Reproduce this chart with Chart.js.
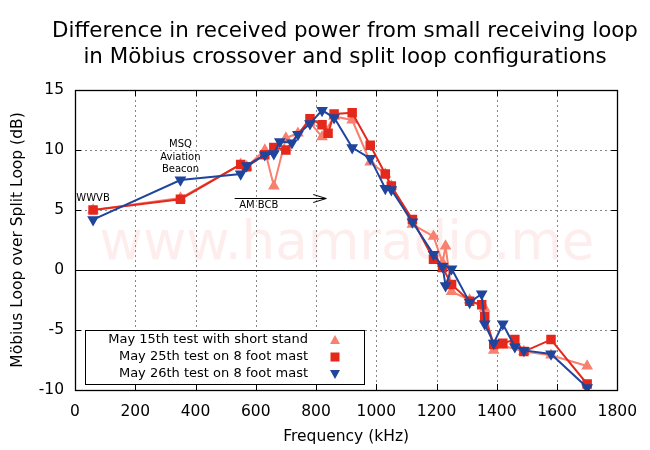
<!DOCTYPE html>
<html>
<head>
<meta charset="utf-8">
<script src="https://cdn.jsdelivr.net/npm/chart.js@4.4.1/dist/chart.umd.min.js"></script>
<style>
  html, body { margin: 0; padding: 0; background: #fff; }
</style>
</head>
<body>
<canvas id="loopChart" width="650" height="450"></canvas>
<script>
// Frequencies (kHz) and Möbius-minus-split difference (dB)
const freqMay15 = [60, 350, 550, 570, 630, 660, 700, 740, 780, 820, 860, 920, 980, 1030, 1050, 1120, 1190, 1220, 1230, 1250, 1310, 1360, 1390, 1420, 1490, 1580, 1700];
const dbMay15   = [5.0, 6.0, 8.8, 8.6, 10.0, 7.0, 11.0, 11.4, 12.3, 11.1, 12.8, 12.5, 9.0, 8.0, 7.0, 3.8, 2.8, 0.6, 2.0, -1.8, -2.5, -3.2, -6.7, -6.3, -6.8, -7.1, -8.0];

const freqMay25 = [60, 350, 550, 570, 630, 660, 700, 780, 820, 840, 860, 920, 980, 1030, 1050, 1120, 1190, 1220, 1250, 1310, 1350, 1360, 1390, 1420, 1460, 1490, 1580, 1700];
const dbMay25   = [5.0, 5.9, 8.8, 8.6, 9.6, 10.2, 10.0, 12.6, 12.1, 11.4, 13.0, 13.1, 10.4, 8.0, 7.0, 4.2, 0.9, 0.2, -1.2, -2.6, -2.9, -3.9, -6.2, -6.1, -5.8, -6.8, -5.8, -9.5];

const freqMay26 = [60, 350, 550, 570, 630, 660, 680, 720, 740, 780, 820, 860, 920, 980, 1030, 1050, 1120, 1190, 1220, 1230, 1250, 1310, 1350, 1360, 1390, 1420, 1460, 1490, 1580, 1700];
const dbMay26   = [4.2, 7.5, 8.0, 8.7, 9.6, 9.7, 10.7, 10.6, 11.3, 12.2, 13.3, 12.7, 10.2, 9.3, 6.8, 6.7, 4.0, 1.3, 0.3, -1.3, 0.1, -2.7, -2.0, -4.5, -6.1, -4.5, -6.4, -6.7, -7.0, -9.8];

const seriesNames = ["May 15th test with short stand", "May 25th test on 8 foot mast", "May 26th test on 8 foot mast"];
const xTicks = [0, 200, 400, 600, 800, 1000, 1200, 1400, 1600, 1800];
const yTicks = [-10, -5, 0, 5, 10, 15];

const FONT = '"DejaVu Sans", sans-serif';
const PINK = "#f8806f";
const RED = "#e4281c";
const BLUE = "#1f459c";

const toPoints = (xs, ys) => xs.map((x, i) => ({ x: x, y: ys[i] }));

// grid, border, watermark and labels the way gnuplot draws them
const gnuplotDecor = {
  id: "gnuplotDecor",
  beforeDatasetsDraw(chart) {
    const { ctx, chartArea: a, scales: { x, y } } = chart;
    ctx.save();

    // watermark
    ctx.font = "53px " + FONT;
    ctx.fillStyle = "rgba(240, 60, 60, 0.09)";
    ctx.textAlign = "center";
    ctx.textBaseline = "middle";
    ctx.fillText("www.hamradio.me", a.left + 272, a.top + 155);

    // dotted grid
    ctx.lineWidth = 1;
    ctx.strokeStyle = "#888";
    ctx.setLineDash([2, 3]);
    xTicks.slice(1, -1).forEach(v => {
      const px = Math.round(x.getPixelForValue(v)) + 0.5;
      ctx.beginPath(); ctx.moveTo(px, a.top); ctx.lineTo(px, a.bottom); ctx.stroke();
    });
    yTicks.slice(1, -1).forEach(v => {
      if (v === 0) return;
      const py = Math.round(y.getPixelForValue(v)) + 0.5;
      ctx.beginPath(); ctx.moveTo(a.left, py); ctx.lineTo(a.right, py); ctx.stroke();
    });
    ctx.setLineDash([]);

    // zero line
    ctx.strokeStyle = "#000";
    const zy = Math.round(y.getPixelForValue(0)) + 0.5;
    ctx.beginPath(); ctx.moveTo(a.left, zy); ctx.lineTo(a.right, zy); ctx.stroke();

    // inward ticks on all four sides
    xTicks.forEach(v => {
      const px = Math.round(x.getPixelForValue(v)) + 0.5;
      ctx.beginPath();
      ctx.moveTo(px, a.bottom); ctx.lineTo(px, a.bottom - 6);
      ctx.moveTo(px, a.top); ctx.lineTo(px, a.top + 6);
      ctx.stroke();
    });
    yTicks.forEach(v => {
      const py = Math.round(y.getPixelForValue(v)) + 0.5;
      ctx.beginPath();
      ctx.moveTo(a.left, py); ctx.lineTo(a.left + 6, py);
      ctx.moveTo(a.right, py); ctx.lineTo(a.right - 6, py);
      ctx.stroke();
    });

    // border
    ctx.lineWidth = 1.3;
    ctx.strokeRect(Math.round(a.left) + 0.5, Math.round(a.top) + 0.5,
      Math.round(a.right - a.left), Math.round(a.bottom - a.top));
    ctx.restore();
  },
  afterDatasetsDraw(chart) {
    const { ctx, chartArea: a, scales: { x, y } } = chart;
    ctx.save();
    ctx.fillStyle = "#000";
    ctx.strokeStyle = "#000";
    ctx.textAlign = "center";
    ctx.textBaseline = "middle";

    // annotations
    ctx.font = "10px " + FONT;
    ctx.fillText("WWVB", x.getPixelForValue(60), y.getPixelForValue(6.0));
    ctx.fillText("MSQ", x.getPixelForValue(350), y.getPixelForValue(10.5));
    ctx.fillText("Aviation", x.getPixelForValue(350), y.getPixelForValue(9.4));
    ctx.fillText("Beacon", x.getPixelForValue(350), y.getPixelForValue(8.4));
    ctx.fillText("AM BCB", x.getPixelForValue(610), y.getPixelForValue(5.4));

    // AM broadcast band arrow
    const ax0 = x.getPixelForValue(530), ax1 = x.getPixelForValue(834);
    const ay = Math.round(y.getPixelForValue(6.0)) + 0.5;
    ctx.lineWidth = 1;
    ctx.beginPath();
    ctx.moveTo(ax0, ay); ctx.lineTo(ax1, ay);
    ctx.moveTo(ax1 - 13, ay - 4); ctx.lineTo(ax1, ay); ctx.lineTo(ax1 - 13, ay + 4);
    ctx.stroke();

    // key box
    ctx.fillStyle = "#fff";
    ctx.fillRect(85.5, 330.5, 279, 54);
    ctx.strokeRect(85.5, 330.5, 279, 54);
    ctx.font = "13px " + FONT;
    ctx.textAlign = "right";
    const rows = [340, 357, 374];
    const colors = [PINK, RED, BLUE];
    seriesNames.forEach((name, i) => {
      ctx.fillStyle = "#000";
      ctx.fillText(name, 308, rows[i]);
      ctx.fillStyle = colors[i];
      const mx = 335, my = rows[i];
      ctx.beginPath();
      if (i === 0) {
        ctx.moveTo(mx, my - 5); ctx.lineTo(mx + 5, my + 4); ctx.lineTo(mx - 5, my + 4);
      } else if (i === 1) {
        ctx.rect(mx - 4.5, my - 4.5, 9, 9);
      } else {
        ctx.moveTo(mx, my + 5); ctx.lineTo(mx + 5, my - 4); ctx.lineTo(mx - 5, my - 4);
      }
      ctx.closePath();
      ctx.fill();
    });

    // titles
    ctx.fillStyle = "#000";
    ctx.textAlign = "center";
    ctx.font = "21.4px " + FONT;
    ctx.fillText("Difference in received power from small receiving loop", 345, 31);
    ctx.fillText("in Möbius crossover and split loop configurations", 345, 57);
    ctx.font = "15.5px " + FONT;
    ctx.fillText("Frequency (kHz)", (a.left + a.right) / 2, 437);
    ctx.translate(18, (a.top + a.bottom) / 2);
    ctx.rotate(-Math.PI / 2);
    ctx.fillText("Möbius Loop over Split Loop (dB)", 0, 0);
    ctx.restore();
  }
};

const ctx = document.getElementById("loopChart").getContext("2d");
const loopChart = new Chart(ctx, {
  type: "line",
  data: {
    datasets: [
      {
        label: seriesNames[0],
        data: toPoints(freqMay15, dbMay15),
        borderColor: PINK, backgroundColor: PINK,
        pointStyle: "triangle", pointRadius: 4.8, borderWidth: 2,
        order: 3
      },
      {
        label: seriesNames[1],
        data: toPoints(freqMay25, dbMay25),
        borderColor: RED, backgroundColor: RED,
        pointStyle: "rect", pointRadius: 5.3, borderWidth: 2,
        order: 2
      },
      {
        label: seriesNames[2],
        data: toPoints(freqMay26, dbMay26),
        borderColor: BLUE, backgroundColor: BLUE,
        pointStyle: "triangle", rotation: 180, pointRadius: 4.8, borderWidth: 2,
        order: 1
      }
    ]
  },
  options: {
    responsive: false,
    animation: false,
    devicePixelRatio: 1,
    layout: { padding: { top: 90, right: 31, bottom: 0, left: 0 } },
    elements: { line: { tension: 0, fill: false }, point: { borderWidth: 1 } },
    plugins: { legend: { display: false }, tooltip: { enabled: false }, title: { display: false } },
    scales: {
      x: {
        type: "linear", min: 0, max: 1800,
        grid: { display: false, drawTicks: false }, border: { display: false },
        ticks: { stepSize: 200, padding: 13, color: "#000", font: { family: FONT, size: 15.5 },
                 callback: v => String(v) },
        afterFit(s) { s.height = 60; }
      },
      y: {
        type: "linear", min: -10, max: 15,
        grid: { display: false, drawTicks: false }, border: { display: false },
        ticks: { stepSize: 5, padding: 11, color: "#000", font: { family: FONT, size: 15.5 },
                 callback: v => String(v) },
        afterFit(s) { s.width = 75; }
      }
    }
  },
  plugins: [gnuplotDecor]
});
</script>
</body>
</html>
